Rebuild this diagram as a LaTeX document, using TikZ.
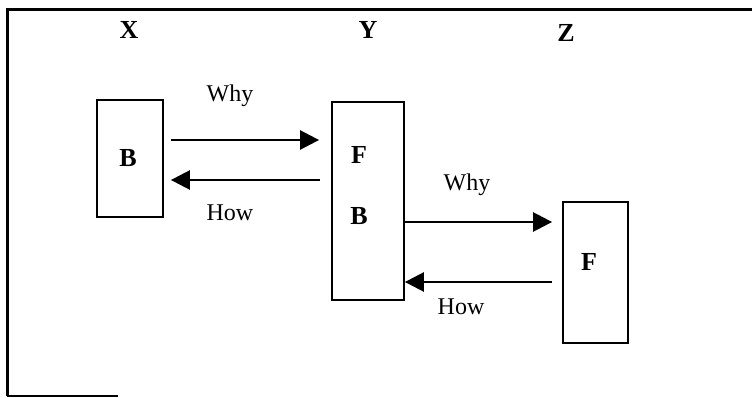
\documentclass[tikz,border=0pt]{standalone}
\usepackage{fontspec}
\setmainfont{Liberation Serif}
\usetikzlibrary{arrows.meta}
\tikzset{
  box/.style={draw, line width=1.8pt, inner sep=0pt},
  lbl/.style={font=\fontsize{26}{30}\selectfont\bfseries},
  txt/.style={font=\fontsize{24}{28}\selectfont},
  arr/.style={line width=2.6pt, -{Triangle[length=19pt, width=19pt]}}
}
\begin{document}
\begin{tikzpicture}[x=1pt, y=-1pt]
\useasboundingbox (0,0) rectangle (752,398);
% frame
\draw[line width=3pt] (752,10) -- (7,10) -- (7,396);
\draw[line width=2pt] (7,396) -- (118,396);
% column heads
\node[lbl] (hx) at (129,30) {X};
\node[lbl] (hy) at (368,30) {Y};
\node[lbl] (hz) at (566,33) {Z};
% boxes
\node[box, minimum width=66pt, minimum height=117pt] (bx) at (130,158.5) {};
\node[box, minimum width=72pt, minimum height=198pt] (by) at (368,201) {};
\node[box, minimum width=65pt, minimum height=141pt] (bz) at (595.5,272.5) {};
\node[lbl] (bxb) at (128,158) {B};
\node[lbl] (byf) at (359,155) {F};
\node[lbl] (byb) at (359,216) {B};
\node[lbl] (bzf) at (589,262) {F};
% X <-> Y
\draw[arr, shorten <=7pt, shorten >=12pt] ([yshift=18.5pt]bx.east) -- ([yshift=18.5pt]bx.east -| by.west);
\draw[arr, shorten <=11pt, shorten >=7pt] ([yshift=-21.5pt]bx.east -| by.west) -- ([yshift=-21.5pt]bx.east);
\node[txt] (why1) at (230,96) {Why};
\node[txt] (how1) at (230,213) {How};
% Y <-> Z
\draw[arr, shorten >=10pt] ([yshift=50.5pt]bz.west -| by.east) -- ([yshift=50.5pt]bz.west);
\draw[arr, shorten <=10pt] ([yshift=-9.5pt]bz.west) -- ([yshift=-9.5pt]bz.west -| by.east);
\node[txt] (why2) at (467,185) {Why};
\node[txt] (how2) at (461,307) {How};
\end{tikzpicture}
\end{document}
